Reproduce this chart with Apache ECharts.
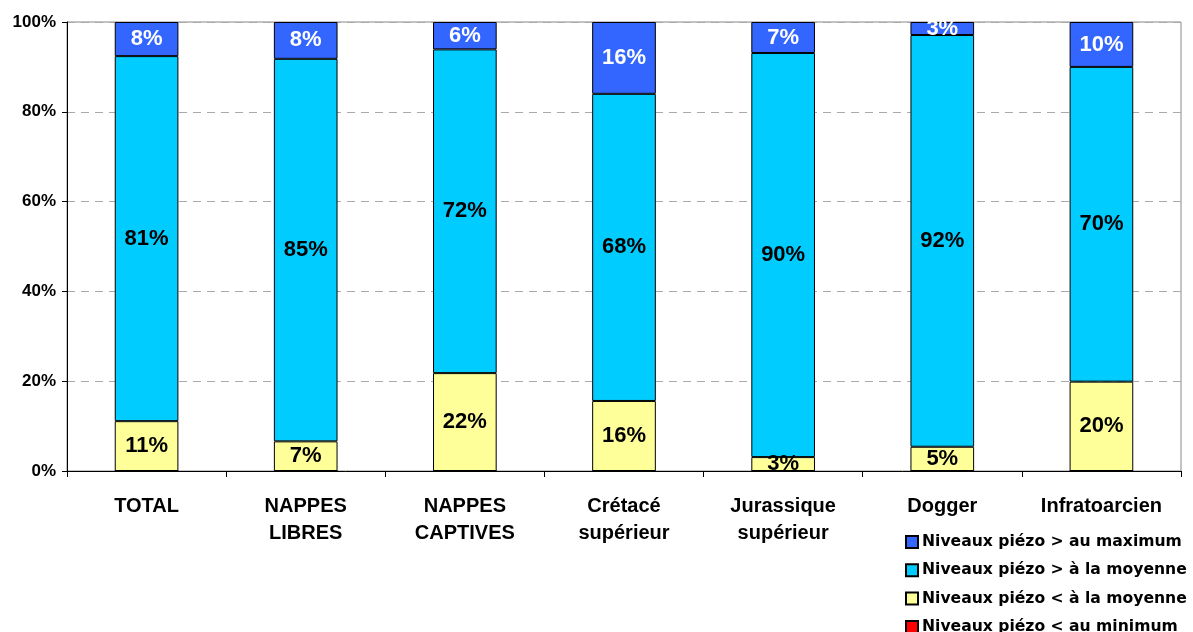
<!DOCTYPE html>
<html><head><meta charset="utf-8">
<script src="https://cdn.jsdelivr.net/npm/echarts@6/dist/echarts.min.js"></script>
<style>html,body{margin:0;padding:0;background:#fff}#c{width:1193px;height:632px}</style>
</head><body><div id="c"></div>
<script>
const categories = ['TOTAL', 'NAPPES\nLIBRES', 'NAPPES\nCAPTIVES', 'Crétacé\nsupérieur', 'Jurassique\nsupérieur', 'Dogger', 'Infratoarcien'];
const seriesNames = ['Niveaux piézo < au minimum', 'Niveaux piézo < à la moyenne', 'Niveaux piézo > à la moyenne', 'Niveaux piézo > au maximum'];
const belowMin = [0, 0, 0, 0, 0, 0, 0];
const belowMean = [11.1, 6.6, 21.8, 15.6, 3.1, 5.4, 19.9];
const aboveMean = [81.3, 85.2, 72.1, 68.4, 90.0, 91.7, 70.1];
const aboveMax = [7.6, 8.2, 6.1, 16.0, 6.9, 2.9, 10.0];
const yTicks = ['0%', '20%', '40%', '60%', '80%', '100%'];

const colors = ['#FF0000', '#FFFF99', '#00CCFF', '#3366FF'];
const labelColors = ['#000', '#000', '#000', '#fff'];
const datasets = [belowMin, belowMean, aboveMean, aboveMax];
const FONT = '"Liberation Sans", Arial, sans-serif';

const chart = echarts.init(document.getElementById('c'), null, {renderer: 'canvas'});
chart.setOption({
  animation: false,
  grid: {left: 67, right: 12, top: 22, bottom: 161, show: true, borderColor: '#888', borderWidth: 1, containLabel: false},
  legend: {
    orient: 'vertical', left: 900, top: 529, height: 200,
    data: seriesNames.slice().reverse(),
    itemWidth: 12, itemHeight: 12, itemGap: 12.3,
    textStyle: {fontFamily: '"DejaVu Sans", sans-serif', fontWeight: 'bold', fontSize: 15.6, lineHeight: 16, color: '#000', padding: [0,0,0,-1]},
    icon: 'rect'
  },
  xAxis: {
    type: 'category', data: categories,
    axisLine: {lineStyle: {color: '#000', width: 1}},
    axisTick: {show: true, length: 6, lineStyle: {color: '#000'}},
    axisLabel: {fontFamily: FONT, fontWeight: 'bold', fontSize: 20, color: '#000', margin: 22, lineHeight: 27}
  },
  yAxis: {
    type: 'value', min: 0, max: 100, interval: 20,
    axisLine: {show: true, lineStyle: {color: '#000'}},
    axisTick: {show: true, length: 5, lineStyle: {color: '#000'}},
    splitLine: {lineStyle: {color: '#aaa', type: [8, 6]}},
    axisLabel: {fontFamily: FONT, fontWeight: 'bold', fontSize: 17, color: '#000', margin: 11,
      formatter: v => yTicks[v / 20]}
  },
  series: datasets.map((d, i) => ({
    name: seriesNames[i], type: 'bar', stack: 'a', data: d, barWidth: '40%',
    itemStyle: {color: colors[i], borderColor: '#000', borderWidth: 1},
    label: {show: true, position: 'inside', fontFamily: FONT, fontWeight: 'bold', fontSize: 22,
      color: labelColors[i],
      formatter: p => p.value > 0 ? Math.round(p.value) + '%' : ''}
  }))
});
</script></body></html>
